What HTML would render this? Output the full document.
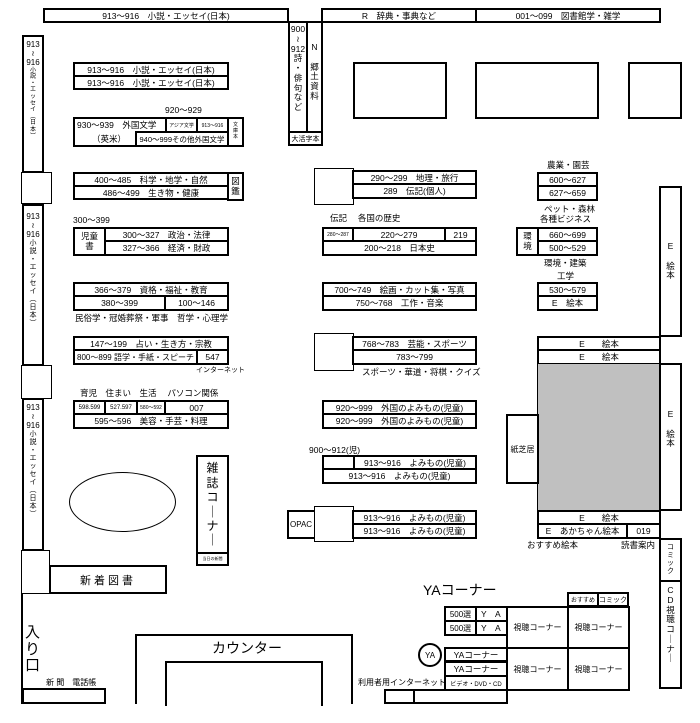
<!DOCTYPE html><html><head><meta charset="utf-8"><style>
body{margin:0;width:700px;height:723px;background:#fff;position:relative;overflow:hidden;font-family:"Liberation Sans","Noto Sans CJK JP",sans-serif;color:#000}
.b{position:absolute;border:2px solid #000;box-sizing:border-box;display:flex;align-items:center;justify-content:center;font-size:8.5px;background:#fff;white-space:nowrap;overflow:hidden}
.t{position:absolute;font-size:8.5px;white-space:nowrap;line-height:1}
.v{flex-direction:column;line-height:1.15;text-align:center}
.s{font-size:5px}
</style></head><body>
<!-- top -->
<div class="b" style="left:43px;top:8px;width:246px;height:15px">913～916　小説・エッセイ(日本)</div>
<div class="b" style="left:321px;top:8px;width:156px;height:15px">R　辞典・事典など</div>
<div class="b" style="left:475px;top:8px;width:186px;height:15px">001～099　図書館学・雑学</div>
<div class="b v" style="left:288px;top:21px;width:20px;height:112px;font-size:8.5px;justify-content:flex-start;padding-top:2px">900<br>≀<br>912<br>詩<br>・<br>俳<br>句<br>な<br>ど</div>
<div class="b v" style="left:306px;top:21px;width:17px;height:112px;font-size:8.5px;justify-content:flex-start;padding-top:20px">N<br><br>郷<br>土<br>資<br>料</div>
<div class="b" style="left:288px;top:131px;width:35px;height:15px;font-size:7px">大活字本</div>
<div class="b" style="left:353px;top:62px;width:94px;height:57px"></div>
<div class="b" style="left:475px;top:62px;width:124px;height:57px"></div>
<div class="b" style="left:628px;top:62px;width:54px;height:57px"></div>
<!-- left wall -->
<div class="b v" style="left:22px;top:35px;width:22px;height:138px;justify-content:flex-start;padding-top:3px;font-size:8px">913<br>≀<br>916<br><span style="font-size:6px;line-height:1.1">小<br>説<br>・<br>エ<br>ッ<br>セ<br>イ<br>︵<br>日<br>本<br>︶</span></div>
<div class="b" style="left:21px;top:172px;width:31px;height:32px;border-width:1.5px"></div>
<div class="b v" style="left:22px;top:204px;width:22px;height:162px;justify-content:flex-start;padding-top:6px;font-size:8px">913<br>≀<br>916<br><span style="font-size:7px">小<br>説<br>・<br>エ<br>ッ<br>セ<br>イ<br>︵<br>日<br>本<br>︶</span></div>
<div class="b" style="left:21px;top:365px;width:31px;height:34px;border-width:1.5px"></div>
<div class="b v" style="left:22px;top:398px;width:22px;height:153px;justify-content:flex-start;padding-top:3px;font-size:8px">913<br>≀<br>916<br><span style="font-size:7px">小<br>説<br>・<br>エ<br>ッ<br>セ<br>イ<br>︵<br>日<br>本<br>︶</span></div>
<div class="b" style="left:21px;top:550px;width:29px;height:44px;border-width:1.5px"></div>
<div style="position:absolute;left:21px;top:593px;width:2px;height:111px;background:#000"></div>
<div class="b" style="left:49px;top:565px;width:118px;height:29px;font-size:11px;letter-spacing:3px">新着図書</div>
<div class="t" style="left:25px;top:625px;font-size:15px;line-height:1.1;width:16px">入<br>り<br>口</div>
<div class="t" style="left:46px;top:679px;font-size:8px">新 聞　電話帳</div>
<div class="b" style="left:22px;top:688px;width:84px;height:16px"></div>
<!-- counter -->
<div style="position:absolute;left:135px;top:634px;width:218px;height:70px;border:2px solid #000;border-bottom:none;box-sizing:border-box"></div>
<div style="position:absolute;left:165px;top:661px;width:158px;height:45px;border:2px solid #000;border-bottom:none;box-sizing:border-box;background:#fff"></div>
<div class="t" style="left:212px;top:641px;font-size:14px">カウンター</div>
<!-- left center shelves -->
<div class="b" style="left:73px;top:62px;width:156px;height:15px">913～916　小説・エッセイ(日本)</div>
<div class="b" style="left:73px;top:75px;width:156px;height:15px">913～916　小説・エッセイ(日本)</div>
<div class="t" style="left:165px;top:106px">920～929</div>
<div class="b" style="left:73px;top:117px;width:156px;height:30px"></div>
<div class="t" style="left:77px;top:121px">930～939　外国文学</div>
<div class="t" style="left:92px;top:135px">（英米）</div>
<div class="b s" style="left:165px;top:117px;width:33px;height:16px">アジア文学</div>
<div class="b s" style="left:196px;top:117px;width:33px;height:16px">913～916</div>
<div class="b" style="left:135px;top:131px;width:94px;height:16px;font-size:7.5px">940～999その他外国文学</div>
<div class="b v" style="left:227px;top:117px;width:17px;height:30px;font-size:5px">文<br>庫<br>本</div>
<div class="b" style="left:73px;top:172px;width:156px;height:15px">400～485　科学・地学・自然</div>
<div class="b" style="left:73px;top:185px;width:156px;height:15px">486～499　生き物・健康</div>
<div class="b v" style="left:227px;top:172px;width:17px;height:29px">図<br>鑑</div>
<div class="t" style="left:73px;top:216px">300～399</div>
<div class="b v" style="left:73px;top:227px;width:33px;height:29px">児童<br>書</div>
<div class="b" style="left:104px;top:227px;width:125px;height:15px">300～327　政治・法律</div>
<div class="b" style="left:104px;top:240px;width:125px;height:16px">327～366　経済・財政</div>
<div class="b" style="left:73px;top:282px;width:156px;height:15px">366～379　資格・福祉・教育</div>
<div class="b" style="left:73px;top:295px;width:93px;height:16px">380～399</div>
<div class="b" style="left:164px;top:295px;width:65px;height:16px">100～146</div>
<div class="t" style="left:75px;top:314px">民俗学・冠婚葬祭・軍事　哲学・心理学</div>
<div class="b" style="left:73px;top:336px;width:156px;height:15px">147～199　占い・生き方・宗教</div>
<div class="b" style="left:73px;top:349px;width:125px;height:16px;font-size:8px">800～899 語学・手紙・スピーチ</div>
<div class="b" style="left:196px;top:349px;width:33px;height:16px">547</div>
<div class="t" style="left:196px;top:367px;font-size:7px">インターネット</div>
<div class="t" style="left:80px;top:389px">育児　住まい　生活　 パソコン関係</div>
<div class="b s" style="left:73px;top:400px;width:33px;height:15px;font-size:6px">598.599</div>
<div class="b s" style="left:104px;top:400px;width:34px;height:15px;font-size:6px">527.597</div>
<div class="b s" style="left:136px;top:400px;width:30px;height:15px">580～592</div>
<div class="b" style="left:164px;top:400px;width:65px;height:15px">007</div>
<div class="b" style="left:73px;top:413px;width:156px;height:16px">595～596　美容・手芸・料理</div>
<div style="position:absolute;left:69px;top:472px;width:107px;height:60px;border:1.5px solid #000;border-radius:50%;box-sizing:border-box"></div>
<div class="b v" style="left:196px;top:455px;width:33px;height:99px;font-size:12px;line-height:1.2">雑<br>誌<br>コ<br>｜<br>ナ<br>｜</div>
<div class="b" style="left:196px;top:552px;width:33px;height:14px;font-size:4px">当日の新聞</div>
<!-- center column -->
<div class="b" style="left:314px;top:168px;width:40px;height:37px;border-width:1.5px"></div>
<div class="b" style="left:352px;top:170px;width:125px;height:15px">290～299　地理・旅行</div>
<div class="b" style="left:352px;top:183px;width:125px;height:16px">289　伝記(個人)</div>
<div class="t" style="left:330px;top:214px">伝記　 各国の歴史</div>
<div class="b s" style="left:322px;top:227px;width:32px;height:15px">280～287</div>
<div class="b" style="left:352px;top:227px;width:94px;height:15px">220～279</div>
<div class="b" style="left:444px;top:227px;width:33px;height:15px">219</div>
<div class="b" style="left:322px;top:240px;width:155px;height:16px">200～218　日本史</div>
<div class="b" style="left:322px;top:282px;width:155px;height:15px">700～749　絵画・カット集・写真</div>
<div class="b" style="left:322px;top:295px;width:155px;height:16px">750～768　工作・音楽</div>
<div class="b" style="left:314px;top:333px;width:40px;height:38px;border-width:1.5px"></div>
<div class="b" style="left:352px;top:336px;width:125px;height:15px">768～783　芸能・スポーツ</div>
<div class="b" style="left:352px;top:349px;width:125px;height:16px">783～799</div>
<div class="t" style="left:362px;top:368px">スポーツ・華道・将棋・クイズ</div>
<div class="b" style="left:322px;top:400px;width:155px;height:15px">920～999　外国のよみもの(児童)</div>
<div class="b" style="left:322px;top:413px;width:155px;height:16px">920～999　外国のよみもの(児童)</div>
<div class="t" style="left:309px;top:446px">900～912(児)</div>
<div class="b" style="left:322px;top:455px;width:33px;height:15px"></div>
<div class="b" style="left:353px;top:455px;width:124px;height:15px">913～916　よみもの(児童)</div>
<div class="b" style="left:322px;top:468px;width:155px;height:16px">913～916　よみもの(児童)</div>
<div class="b" style="left:287px;top:510px;width:30px;height:29px;justify-content:flex-start;padding-left:1px;font-size:8px">OPAC</div>
<div class="b" style="left:314px;top:506px;width:40px;height:36px;border-width:1.5px"></div>
<div class="b" style="left:352px;top:510px;width:125px;height:15px">913～916　よみもの(児童)</div>
<div class="b" style="left:352px;top:523px;width:125px;height:16px">913～916　よみもの(児童)</div>
<!-- right column -->
<div class="t" style="left:547px;top:161px">農業・園芸</div>
<div class="b" style="left:537px;top:172px;width:61px;height:15px">600～627</div>
<div class="b" style="left:537px;top:185px;width:61px;height:16px">627～659</div>
<div class="t" style="left:544px;top:205px">ペット・森林</div>
<div class="t" style="left:540px;top:215px">各種ビジネス</div>
<div class="b v" style="left:516px;top:227px;width:23px;height:29px">環<br>境</div>
<div class="b" style="left:537px;top:227px;width:61px;height:15px">660～699</div>
<div class="b" style="left:537px;top:240px;width:61px;height:16px">500～529</div>
<div class="t" style="left:544px;top:259px">環境・建築</div>
<div class="t" style="left:557px;top:272px">工学</div>
<div class="b" style="left:537px;top:282px;width:61px;height:15px">530～579</div>
<div class="b" style="left:537px;top:295px;width:61px;height:16px">E　絵本</div>
<div class="b v" style="left:659px;top:186px;width:23px;height:151px;justify-content:flex-start;padding-top:54px">E<br><br>絵<br>本</div>
<div class="b" style="left:537px;top:336px;width:124px;height:15px">E　　絵本</div>
<div class="b" style="left:537px;top:349px;width:124px;height:16px">E　　絵本</div>
<div class="b" style="left:537px;top:363px;width:124px;height:148px;background:#c0c0c0;border-width:1.5px"></div>
<div class="b v" style="left:659px;top:363px;width:23px;height:148px;justify-content:flex-start;padding-top:45px">E<br><br>絵<br>本</div>
<div class="b" style="left:506px;top:414px;width:33px;height:70px;font-size:8px">紙芝居</div>
<div class="b" style="left:537px;top:510px;width:124px;height:15px">E　　絵本</div>
<div class="b" style="left:537px;top:523px;width:91px;height:16px">E　あかちゃん絵本</div>
<div class="b" style="left:626px;top:523px;width:35px;height:16px">019</div>
<div class="t" style="left:527px;top:541px">おすすめ絵本</div>
<div class="t" style="left:621px;top:541px">読書案内</div>
<div class="b v" style="left:659px;top:538px;width:23px;height:44px;font-size:7px">コ<br>ミ<br>ッ<br>ク</div>
<div class="b v" style="left:659px;top:580px;width:23px;height:109px;font-size:8.5px;justify-content:flex-start;padding-top:4px">C<br>D<br>視<br>聴<br>コ<br>｜<br>ナ<br>｜</div>
<!-- YA -->
<div class="t" style="left:423px;top:583px;font-size:14px">YAコーナー</div>
<div class="b" style="left:567px;top:592px;width:32px;height:15px;font-size:6px">おすすめ</div>
<div class="b" style="left:597px;top:592px;width:32px;height:15px;font-size:7px">コミック</div>
<div class="b" style="left:444px;top:606px;width:33px;height:16px;font-size:8px">500選</div>
<div class="b" style="left:475px;top:606px;width:33px;height:16px;justify-content:flex-start;padding-left:4px">Y　A</div>
<div class="b" style="left:444px;top:620px;width:33px;height:16px;font-size:8px">500選</div>
<div class="b" style="left:475px;top:620px;width:33px;height:16px;justify-content:flex-start;padding-left:4px">Y　A</div>
<div class="b" style="left:506px;top:606px;width:63px;height:43px;font-size:8px">視聴コーナー</div>
<div class="b" style="left:567px;top:606px;width:63px;height:43px;font-size:8px">視聴コーナー</div>
<div class="b" style="left:506px;top:647px;width:63px;height:44px;font-size:8px">視聴コーナー</div>
<div class="b" style="left:567px;top:647px;width:63px;height:44px;font-size:8px">視聴コーナー</div>
<div class="b" style="left:418px;top:643px;width:24px;height:24px;border-radius:50%;font-size:8px">YA</div>
<div class="b" style="left:444px;top:647px;width:64px;height:15px">YAコーナー</div>
<div class="b" style="left:444px;top:661px;width:64px;height:16px">YAコーナー</div>
<div class="t" style="left:358px;top:679px;font-size:8px">利用者用インターネット</div>
<div class="b" style="left:444px;top:675px;width:64px;height:16px;font-size:6px">ビデオ・DVD・CD</div>
<div class="b" style="left:384px;top:689px;width:31px;height:15px"></div>
<div class="b" style="left:413px;top:689px;width:95px;height:15px"></div>
</body></html>
